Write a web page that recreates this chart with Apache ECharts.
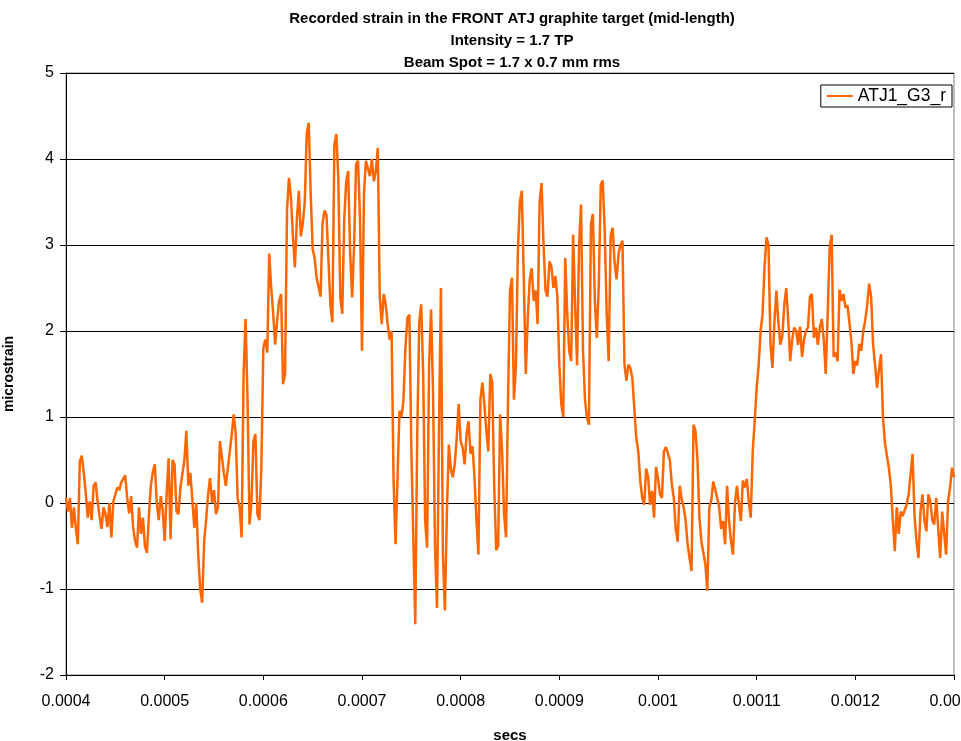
<!DOCTYPE html>
<html>
<head>
<meta charset="utf-8">
<script src="https://cdn.jsdelivr.net/npm/echarts@6/dist/echarts.min.js"></script>
<style>
  html, body { margin: 0; padding: 0; background: #fff; }
  #chart { width: 961px; height: 741px; }
</style>
</head>
<body>
<div id="chart"></div>
<script>
var titleLines = [
  'Recorded strain in the FRONT ATJ graphite target (mid-length)',
  'Intensity = 1.7 TP',
  'Beam Spot = 1.7 x 0.7 mm rms'
];
var seriesName = 'ATJ1_G3_r';

// sampling of the trace: first time and step (secs)
var T0 = 0.0004;
var DT = 0.000002;

// microstrain, one row per 10 us
var strain = [
  0.06, -0.1, 0.06, -0.29, -0.05,
  -0.3, -0.48, 0.48, 0.55, 0.35,
  0.12, -0.17, 0.02, -0.2, 0.2,
  0.24, 0.02, -0.15, -0.3, -0.05,
  -0.13, -0.28, 0.0, -0.4, 0.02,
  0.1, 0.18, 0.15, 0.24, 0.28,
  0.32, 0.06, -0.12, 0.08, -0.28,
  -0.44, -0.52, -0.05, -0.36, -0.17,
  -0.5, -0.58, -0.15, 0.2, 0.36,
  0.45, 0.0, -0.2, 0.08, -0.08,
  -0.44, 0.1, 0.52, -0.42, 0.5,
  0.45, -0.1, -0.13, 0.18, 0.2,
  0.5, 0.84, 0.2, 0.35, 0.05,
  -0.29, 0.0, -0.6, -1.0, -1.16,
  -0.45, -0.2, 0.1, 0.29, 0.0,
  0.15, -0.13, -0.05, 0.72, 0.72,
  0.35, 0.2, 0.4, 0.6, 0.8,
  1.03, 0.8, 0.05, -0.05, -0.4,
  1.5, 2.14, 1.2, -0.25, 0.02,
  0.72, 0.8, -0.13, -0.2, 0.41,
  1.8, 1.9, 1.75, 2.9, 2.5,
  2.2, 1.84, 2.12, 2.35, 2.43,
  1.38, 1.5, 3.4, 3.78, 3.55,
  3.1, 2.74, 3.3, 3.63, 3.1,
  3.25, 3.5, 4.3, 4.42, 3.6,
  2.95, 2.85, 2.62, 2.6, 2.4,
  3.25, 3.4, 3.35, 3.36, 2.3,
  2.1, 4.17, 4.29, 3.78, 2.39,
  2.2, 3.3, 3.74, 3.86, 2.9,
  2.39, 3.0, 3.94, 3.98, 3.3,
  1.77, 3.6, 3.98, 4.0, 3.8,
  4.0, 3.74, 3.86, 4.13, 2.4,
  2.08, 2.43, 2.31, 2.08, 1.9,
  2.0, 0.26, -0.48, 0.29, 1.07,
  1.0, 1.19, 1.8, 2.15, 2.19,
  0.64, -0.4, -1.41, 0.8, 2.1,
  2.31, 1.5, -0.21, -0.52, 1.6,
  2.25, 1.3, -0.5, -1.22, 0.8,
  2.5, -0.6, -1.25, -0.13, 0.68,
  0.4, 0.3, 0.45, 0.76, 1.15,
  0.72, 0.64, 0.45, 0.8, 0.95,
  0.57, 0.66, 0.3, -0.2, -0.6,
  1.2, 1.4, 1.15, 0.84, 0.6,
  1.5, 1.4, 0.2, -0.55, -0.5,
  1.03, 0.6, -0.13, -0.4, 1.2,
  2.47, 2.62, 1.2, 1.6, 2.93,
  3.5, 3.63, 2.6, 1.5, 2.15,
  2.6, 2.73, 2.35, 2.47, 2.08,
  3.5, 3.72, 3.0, 2.47, 2.4,
  2.81, 2.75, 2.5, 2.64, 2.4,
  1.6, 1.15, 1.0, 2.85, 2.2,
  1.77, 1.65, 3.12, 2.3, 1.6,
  3.0, 3.47, 1.77, 1.2, 0.99,
  0.91, 3.24, 3.36, 2.35, 1.92,
  2.54, 3.7, 3.75, 3.16, 2.2,
  1.65, 3.1, 3.2, 2.8, 2.6,
  2.9, 3.0, 3.05, 1.61, 1.42,
  1.61, 1.57, 1.45, 1.1, 0.76,
  0.6, 0.26, 0.06, -0.02, 0.4,
  0.3, -0.02, 0.14, -0.17, 0.42,
  0.29, 0.1, 0.06, 0.6, 0.65,
  0.58, 0.5, 0.22, 0.06, -0.3,
  -0.45, 0.2, 0.05, -0.05, -0.2,
  -0.48, -0.64, -0.79, 0.91, 0.84,
  0.5, -0.17, -0.45, -0.45, -0.71,
  -1.02, -0.05, 0.03, 0.25, 0.26,
  0.06, -0.05, -0.3, -0.21, -0.48,
  0.2, -0.21, -0.45, -0.6, 0.0,
  0.2, -0.02, -0.21, 0.26, 0.18,
  0.28, 0.02, -0.17, 0.6, 0.95,
  1.34, 1.6, 2.0, 2.2, 2.75,
  3.09, 3.0, 1.85, 1.57, 2.1,
  2.47, 2.1, 1.84, 1.94, 2.31,
  2.5, 2.12, 1.65, 1.9, 2.04,
  2.0, 1.84, 2.05, 1.7, 1.9,
  2.0, 2.04, 2.4, 2.43, 1.92,
  2.04, 1.84, 2.04, 2.14, 1.9,
  1.5, 2.2, 2.97, 3.12, 1.7,
  1.75, 1.65, 2.48, 2.35, 2.43,
  2.27, 2.3, 2.1, 1.88, 1.5,
  1.65, 1.6, 1.85, 1.77, 2.0,
  2.12, 2.3, 2.55, 2.4, 1.84,
  1.61, 1.34, 1.55, 1.73, 1.0,
  0.7, 0.55, 0.41, 0.2, -0.2,
  -0.56, -0.05, -0.36, -0.1, -0.15,
  -0.15, -0.02, 0.1, 0.33, 0.57,
  -0.15, -0.44, -0.64, -0.1, 0.1,
  -0.2, -0.33, 0.1, 0.02, -0.2,
  -0.25, 0.06, -0.3, -0.64, -0.1,
  -0.09, -0.6, 0.02, 0.18, 0.41,
  0.3
];

var points = strain.map(function (v, i) {
  return [+(T0 + i * DT).toFixed(7), v];
});

var font = '"Liberation Sans", Arial, sans-serif';
var chart = echarts.init(document.getElementById('chart'), null, { renderer: 'canvas' });

chart.setOption({
  backgroundColor: '#fff',
  animation: false,
  textStyle: { fontFamily: font },
  title: {
    text: titleLines.join('\n'),
    left: 507,
    top: 3,
    textAlign: 'center',
    textStyle: { fontSize: 15, fontWeight: 'bold', color: '#000', lineHeight: 22, fontFamily: font }
  },
  legend: {
    right: 9,
    top: 85,
    padding: [2, 6, 2, 6],
    borderColor: '#000',
    borderWidth: 1,
    backgroundColor: '#fff',
    itemWidth: 26,
    itemHeight: 2,
    itemGap: 6,
    textStyle: { fontSize: 17.5, color: '#000', fontFamily: font },
    data: [{ name: seriesName, icon: 'rect' }]
  },
  grid: {
    left: 66,
    right: 7,
    top: 73,
    bottom: 66,
    outerBoundsMode: 'none',
    containLabel: false,
    show: true,
    borderColor: '#808080',
    borderWidth: 1,
    backgroundColor: '#fff'
  },
  xAxis: {
    type: 'value',
    min: 0.0004,
    max: 0.0013,
    interval: 0.0001,
    name: 'secs',
    nameLocation: 'middle',
    nameGap: 53,
    nameTextStyle: { fontSize: 15, fontWeight: 'bold', color: '#000', fontFamily: font },
    axisLine: { onZero: false, lineStyle: { color: '#000', width: 1 } },
    axisTick: { show: true, length: 5, lineStyle: { color: '#000' } },
    axisLabel: {
      fontSize: 16,
      color: '#000',
      margin: 19,
      formatter: function (v) { return String(+v.toFixed(4)); }
    },
    splitLine: { show: false }
  },
  yAxis: {
    type: 'value',
    min: -2,
    max: 5,
    interval: 1,
    name: 'microstrain',
    nameLocation: 'middle',
    nameGap: 50,
    nameRotate: 90,
    nameTextStyle: { fontSize: 14, fontWeight: 'bold', color: '#000', fontFamily: font },
    axisLine: { show: true, lineStyle: { color: '#000', width: 1 } },
    axisTick: { show: true, length: 6, lineStyle: { color: '#000' } },
    axisLabel: { fontSize: 16, color: '#000', margin: 12 },
    splitLine: { show: true, lineStyle: { color: '#000', width: 1 } }
  },
  series: [{
    name: seriesName,
    type: 'line',
    data: points,
    symbol: 'none',
    lineStyle: { color: '#FF6600', width: 2.5 },
    itemStyle: { color: '#FF6600' }
  }]
});
</script>
</body>
</html>
